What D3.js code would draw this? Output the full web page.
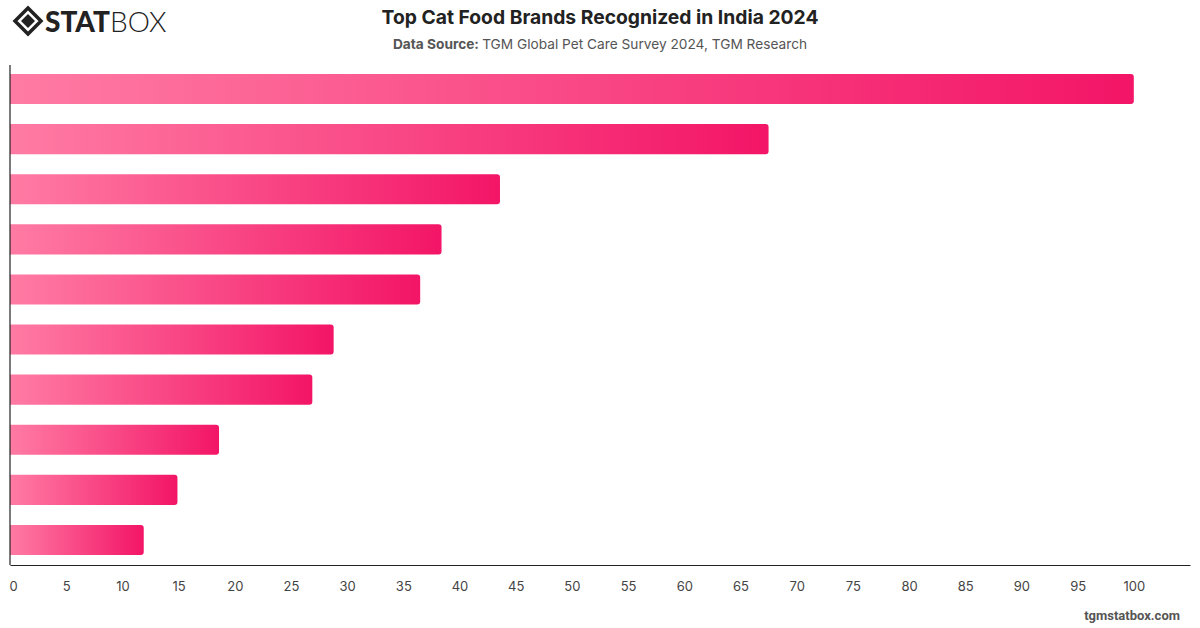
<!DOCTYPE html>
<html>
<head>
<meta charset="utf-8">
<script src="https://cdn.jsdelivr.net/npm/d3@7"></script>
<style>
  body { margin: 0; background: #fff; }
  svg { display: block; font-family: Inter, "Noto Sans", sans-serif; }
</style>
</head>
<body>
<div id="chart"></div>
<script>
// brands are not labelled in the chart, just ranked 1..10
var ranks = [1, 2, 3, 4, 5, 6, 7, 8, 9, 10];
var values = [100, 67.5, 43.6, 38.4, 36.5, 28.8, 26.9, 18.6, 14.9, 11.9];
var tickLabels = [0, 5, 10, 15, 20, 25, 30, 35, 40, 45, 50, 55, 60, 65, 70, 75, 80, 85, 90, 95, 100];

var width = 1200, height = 628;
var margin = {top: 64, right: 10, bottom: 63, left: 10};

var svg = d3.select("#chart")
    .append("svg")
    .attr("width", width)
    .attr("height", height);

// gradient used by every bar (light pink on the left to strong pink on the right)
var defs = svg.append("defs");
var grad = defs.append("linearGradient")
    .attr("id", "barGrad")
    .attr("x1", "0%").attr("x2", "100%")
    .attr("y1", "0%").attr("y2", "0%");
grad.append("stop").attr("offset", "0%").attr("stop-color", "#ff7ba4");
grad.append("stop").attr("offset", "100%").attr("stop-color", "#f31567");

var x = d3.scaleLinear()
    .domain([0, 105])
    .range([margin.left, width - margin.right]);

var y = d3.scaleBand()
    .domain(ranks)
    .range([margin.top, height - margin.bottom])
    .paddingInner(0.4)
    .paddingOuter(0.2);

// bar with rounded right corners only
function barPath(d, i) {
    var x0 = x(0), x1 = x(values[i]), y0 = y(d), h = y.bandwidth(), r = 3;
    return "M" + x0 + "," + y0 +
        "H" + (x1 - r) +
        "Q" + x1 + "," + y0 + " " + x1 + "," + (y0 + r) +
        "V" + (y0 + h - r) +
        "Q" + x1 + "," + (y0 + h) + " " + (x1 - r) + "," + (y0 + h) +
        "H" + x0 + "Z";
}

svg.selectAll(".bar")
    .data(ranks)
    .enter()
    .append("path")
    .attr("class", "bar")
    .attr("d", barPath)
    .attr("fill", "url(#barGrad)");

// axes
var xAxis = svg.append("g")
    .attr("transform", "translate(0," + (height - margin.bottom) + ")")
    .call(d3.axisBottom(x).tickValues(tickLabels).tickSize(0).tickPadding(17));
xAxis.select(".domain").attr("stroke", "#222").attr("stroke-width", 1.2);
xAxis.selectAll("text")
    .attr("fill", "#444")
    .style("font-size", "13px")
    .style("font-family", "Inter, sans-serif");
xAxis.select(".tick text").attr("dx", "3");

svg.append("line")
    .attr("x1", x(0)).attr("x2", x(0))
    .attr("y1", margin.top + 1).attr("y2", height - margin.bottom)
    .attr("stroke", "#222")
    .attr("stroke-width", 1.2);

// titles
svg.append("text")
    .attr("x", 600).attr("y", 24)
    .attr("text-anchor", "middle")
    .style("font-size", "19.3px")
    .style("font-weight", "700")
    .attr("fill", "#222")
    .text("Top Cat Food Brands Recognized in India 2024");

var sub = svg.append("text")
    .attr("x", 600).attr("y", 49)
    .attr("text-anchor", "middle")
    .style("font-size", "13.7px")
    .attr("fill", "#555");
sub.append("tspan").style("font-weight", "700").text("Data Source: ");
sub.append("tspan").text("TGM Global Pet Care Survey 2024, TGM Research");

// footer
svg.append("text")
    .attr("x", 1180).attr("y", 620)
    .attr("text-anchor", "end")
    .style("font-size", "13px")
    .style("font-weight", "700")
    .style("font-family", "Roboto, sans-serif")
    .attr("fill", "#555")
    .text("tgmstatbox.com");

// logo
var logo = svg.append("g").attr("transform", "translate(15,8)");
logo.append("path")
    .attr("d", "M13,0 L26,13 L13,26 L0,13 Z")
    .attr("fill", "none")
    .attr("stroke", "#222")
    .attr("stroke-width", 3.5);
logo.append("path")
    .attr("d", "M13,6 L20,13 L13,20 L6,13 Z")
    .attr("fill", "#222");
var logoText = logo.append("text")
    .attr("x", 30).attr("y", 24)
    .style("font-size", "28px")
    .attr("fill", "#222");
logoText.append("tspan")
    .style("font-weight", "900")
    .style("font-family", "Lato, sans-serif")
    .text("STAT");
logoText.append("tspan")
    .style("font-weight", "300")
    .style("font-family", "Lato, sans-serif")
    .text("BOX");
</script>
</body>
</html>
